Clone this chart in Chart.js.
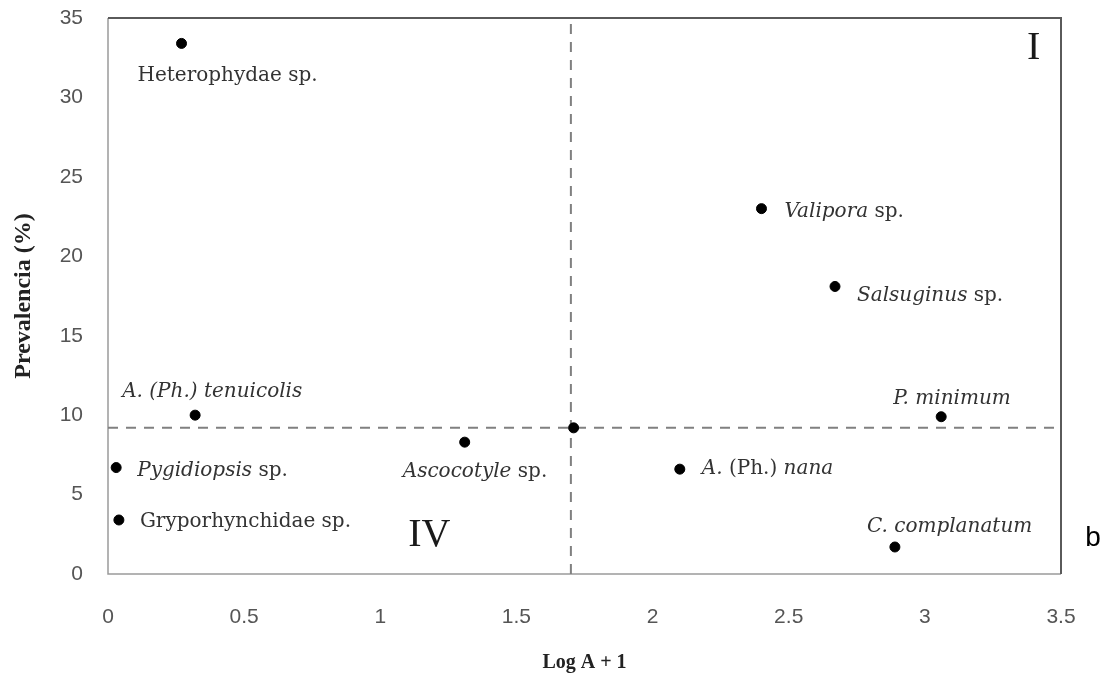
<!DOCTYPE html>
<html>
<head>
<meta charset="utf-8">
<script src="https://cdn.jsdelivr.net/npm/chart.js@4/dist/chart.umd.min.js"></script>
<style>
  body { margin: 0; background: #fff; }
  canvas { display: block; }
</style>
</head>
<body>
<canvas id="myChart" width="1108" height="680"></canvas>
<script>
// species (parts flagged true are set in italics)
var species = [
    [["Heterophydae sp.", false]],
    [["A. (Ph.) tenuicolis", true]],
    [["Pygidiopsis", true], [" sp.", false]],
    [["Gryporhynchidae sp.", false]],
    [["Ascocotyle", true], [" sp.", false]],
    [],
    [["A.", true], [" (Ph.) ", false], ["nana", true]],
    [["Valipora", true], [" sp.", false]],
    [["Salsuginus", true], [" sp.", false]],
    [["P. minimum", true]],
    [["C. complanatum", true]]
];
var logAbundance = [0.27, 0.32, 0.03, 0.04, 1.31, 1.71, 2.10, 2.40, 2.67, 3.06, 2.89];
var prevalence   = [33.4, 10.0, 6.7, 3.4, 8.3, 9.2, 6.6, 23.0, 18.1, 9.9, 1.7];

var meanX = 1.70;
var meanY = 9.2;

var xTicks = [0, 0.5, 1, 1.5, 2, 2.5, 3, 3.5];
var yTicks = [0, 5, 10, 15, 20, 25, 30, 35];

// label offsets in pixels from the point (layout only)
var labelDx = [-44, -73, 21, 21, -62, 0, 22, 23, 22, -48, -28];
var labelDy = [32, -23, 3, 2, 30, 0, 0, 3, 9, -18, -20];

var labelFont = "20px 'DejaVu Serif', serif";
var labelFontIt = "italic 20px 'DejaVu Serif', serif";

var points = [];
for (var i = 0; i < logAbundance.length; i++) {
    points.push({x: logAbundance[i], y: prevalence[i]});
}

var quadrantPlugin = {
    id: "quadrants",
    beforeDatasetsDraw: function(chart) {
        var ctx = chart.ctx;
        var a = chart.chartArea;
        ctx.save();
        ctx.lineWidth = 1.5;
        ctx.strokeStyle = "#9a9a9a";
        ctx.beginPath();
        ctx.moveTo(a.left, a.top);
        ctx.lineTo(a.left, a.bottom);
        ctx.lineTo(a.right, a.bottom);
        ctx.stroke();
        ctx.lineWidth = 2;
        ctx.strokeStyle = "#5a5a5a";
        ctx.beginPath();
        ctx.moveTo(a.left, a.top);
        ctx.lineTo(a.right, a.top);
        ctx.lineTo(a.right, a.bottom);
        ctx.stroke();
        ctx.restore();
    },
    afterDatasetsDraw: function(chart) {
        var ctx = chart.ctx;
        var xs = chart.scales.x, ys = chart.scales.y;
        ctx.save();
        ctx.fillStyle = "#333";
        ctx.textBaseline = "middle";
        for (var i = 0; i < species.length; i++) {
            var px = xs.getPixelForValue(logAbundance[i]) + labelDx[i];
            var py = ys.getPixelForValue(prevalence[i]) + labelDy[i];
            var parts = species[i];
            for (var j = 0; j < parts.length; j++) {
                ctx.font = parts[j][1] ? labelFontIt : labelFont;
                ctx.fillText(parts[j][0], px, py);
                px += ctx.measureText(parts[j][0]).width;
            }
        }
        // quadrant numbers
        ctx.fillStyle = "#1a1a1a";
        ctx.font = "40px 'Liberation Serif', serif";
        ctx.textAlign = "center";
        ctx.fillText("I", xs.getPixelForValue(3.40), ys.getPixelForValue(33.1));
        ctx.fillText("IV", xs.getPixelForValue(1.18), ys.getPixelForValue(2.4));
        // panel letter
        ctx.fillStyle = "#000";
        ctx.font = "28px 'Liberation Sans', sans-serif";
        ctx.fillText("b", 1093, 538);
        ctx.restore();
    }
};

var ctx = document.getElementById("myChart").getContext("2d");
var myChart = new Chart(ctx, {
    type: "scatter",
    data: {
        datasets: [
            {
                data: points,
                backgroundColor: "#000",
                borderColor: "#000",
                pointRadius: 5,
                order: 1
            },
            {
                data: [{x: meanX, y: 0}, {x: meanX, y: 35}],
                showLine: true,
                borderColor: "#808080",
                borderWidth: 2,
                borderDash: [10, 8],
                pointRadius: 0,
                order: 2
            },
            {
                data: [{x: 0, y: meanY}, {x: 3.5, y: meanY}],
                showLine: true,
                borderColor: "#808080",
                borderWidth: 2,
                borderDash: [10, 8],
                pointRadius: 0,
                order: 2
            }
        ]
    },
    options: {
        responsive: false,
        animation: false,
        layout: { padding: { left: 0, right: 47, top: 18, bottom: 0 } },
        plugins: {
            legend: { display: false },
            tooltip: { enabled: false }
        },
        scales: {
            x: {
                type: "linear",
                min: 0,
                max: 3.5,
                afterBuildTicks: function(scale) {
                    scale.ticks = xTicks.map(function(v) { return {value: v}; });
                },
                afterFit: function(scale) {
                    scale.height = 106;
                    scale.paddingLeft = 0;
                    scale.paddingRight = 0;
                },
                grid: { display: false, drawTicks: false },
                border: { display: false },
                ticks: {
                    padding: 31,
                    color: "#555",
                    callback: function(v) { return String(v); },
                    font: { family: "'Liberation Sans', sans-serif", size: 21 }
                },
                title: {
                    display: true,
                    text: "Log A + 1",
                    color: "#222",
                    padding: { top: 0, bottom: 5 },
                    font: { family: "'Liberation Serif', serif", size: 20, weight: "bold" }
                }
            },
            y: {
                min: 0,
                max: 35,
                afterBuildTicks: function(scale) {
                    scale.ticks = yTicks.map(function(v) { return {value: v}; });
                },
                afterFit: function(scale) {
                    scale.width = 108;
                    scale.paddingTop = 0;
                    scale.paddingBottom = 0;
                },
                grid: { display: false, drawTicks: false },
                border: { display: false },
                ticks: {
                    padding: 25,
                    color: "#555",
                    callback: function(v) { return String(v); },
                    font: { family: "'Liberation Sans', sans-serif", size: 21 }
                },
                title: {
                    display: true,
                    text: "Prevalencia (%)",
                    color: "#222",
                    padding: { top: 9, bottom: 0 },
                    font: { family: "'Liberation Serif', serif", size: 24, weight: "bold" }
                }
            }
        }
    },
    plugins: [quadrantPlugin]
});
</script>
</body>
</html>
